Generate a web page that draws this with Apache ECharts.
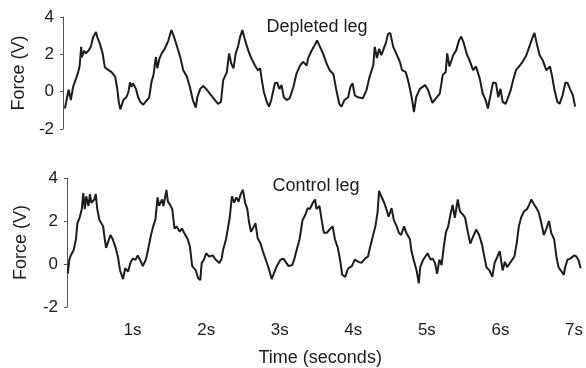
<!DOCTYPE html>
<html>
<head>
<meta charset="utf-8">
<script src="https://cdn.jsdelivr.net/npm/echarts@6/dist/echarts.min.js"></script>
<style>
  html, body { margin: 0; padding: 0; background: #fff; }
  #main { width: 586px; height: 368px; }
</style>
</head>
<body>
<div id="main"></div>
<script>
// time (s) and force (V)
const depletedTime = [0.08,0.13,0.16,0.19,0.23,0.26,0.28,0.30,0.31,0.34,0.36,0.40,0.43,0.46,0.50,0.52,0.55,0.59,0.62,0.67,0.71,0.76,0.79,0.81,0.83,0.87,0.91,0.94,0.96,0.98,1.00,1.04,1.07,1.10,1.14,1.19,1.22,1.25,1.28,1.31,1.33,1.36,1.39,1.43,1.48,1.52,1.55,1.59,1.64,1.68,1.73,1.77,1.81,1.85,1.87,1.91,1.95,2.00,2.04,2.11,2.15,2.19,2.22,2.27,2.30,2.33,2.36,2.39,2.42,2.45,2.48,2.51,2.56,2.60,2.65,2.69,2.72,2.74,2.77,2.81,2.84,2.87,2.92,2.95,2.98,3.01,3.04,3.08,3.12,3.17,3.21,3.26,3.30,3.35,3.37,3.41,3.46,3.49,3.53,3.57,3.62,3.66,3.71,3.75,3.79,3.82,3.86,3.91,3.94,3.97,4.00,4.04,4.11,4.16,4.20,4.25,4.27,4.30,4.33,4.36,4.40,4.42,4.45,4.48,4.52,4.56,4.61,4.64,4.69,4.73,4.77,4.80,4.83,4.88,4.95,4.99,5.05,5.10,5.15,5.19,5.23,5.25,5.28,5.33,5.37,5.41,5.44,5.47,5.52,5.55,5.60,5.64,5.69,5.73,5.77,5.80,5.84,5.87,5.91,5.94,5.97,6.00,6.04,6.07,6.11,6.14,6.18,6.23,6.27,6.32,6.36,6.40,6.43,6.46,6.50,6.54,6.59,6.64,6.67,6.70,6.74,6.77,6.81,6.85,6.88,6.91,6.95,6.98];
const depletedForce = [-0.9,0.1,-0.45,0.25,0.7,1.05,1.4,2.4,1.85,2.2,2.05,2.2,2.4,2.9,3.2,2.9,2.6,2.05,1.3,1.15,1.05,0.8,0.1,-0.6,-0.95,-0.45,-0.3,0,0.5,0.25,0.45,0.15,-0.3,-0.55,-0.7,-0.45,-0.3,0.5,0.95,1.85,1.25,1.8,2.05,2.3,2.75,3.3,3.0,2.5,1.85,1.15,0.8,0.25,-0.45,-0.85,-0.3,0.15,0.3,0.1,-0.1,-0.45,-0.65,-0.55,0.6,1.05,2.05,1.5,1.25,2.05,2.4,2.95,3.3,2.85,2.2,1.8,1.4,1.15,1.25,0.7,0,-0.55,-0.8,-0.45,0.45,0.5,0.15,0.35,-0.3,-0.45,-0.35,0.25,0.95,1.4,1.6,1.4,1.8,2.15,2.5,2.75,2.4,2.05,1.5,1.15,0.95,0.1,-0.65,-0.8,-0.45,-0.3,0.25,0.45,-0.2,-0.3,-0.35,0.1,0.8,1.4,2.4,1.8,2.3,1.95,2.4,2.6,3.1,3.15,2.4,2.05,1.6,1.15,1.05,0.45,-0.3,-1.1,-0.3,0.15,0.35,0.1,-0.6,-0.35,-0.1,0.9,1.05,2.05,1.35,1.95,2.2,2.75,2.95,2.65,1.95,1.7,1.15,1.35,0.7,-0.1,-0.45,-0.9,-0.1,0.5,0.45,-0.3,0.15,-0.55,-0.65,-0.35,0.1,0.6,1.15,1.4,1.6,1.95,2.4,2.85,3.15,2.6,1.95,1.7,1.15,1.35,0.8,0.1,-0.55,-0.65,-0.2,0.5,0.45,0.15,-0.2,-0.8];

const controlTime = [0.12,0.14,0.16,0.20,0.23,0.25,0.28,0.31,0.33,0.35,0.37,0.40,0.42,0.44,0.48,0.50,0.52,0.55,0.60,0.62,0.64,0.67,0.70,0.73,0.77,0.80,0.83,0.87,0.90,0.94,0.97,1.00,1.04,1.07,1.10,1.14,1.18,1.21,1.25,1.28,1.31,1.34,1.36,1.40,1.42,1.46,1.48,1.51,1.54,1.57,1.60,1.64,1.67,1.70,1.75,1.78,1.81,1.86,1.89,1.92,1.94,1.97,2.00,2.04,2.09,2.13,2.18,2.21,2.23,2.27,2.30,2.32,2.35,2.38,2.41,2.44,2.47,2.50,2.53,2.56,2.58,2.61,2.65,2.67,2.70,2.74,2.77,2.81,2.85,2.89,2.92,2.96,3.01,3.05,3.09,3.12,3.17,3.20,3.23,3.27,3.31,3.35,3.38,3.41,3.45,3.48,3.50,3.54,3.57,3.60,3.64,3.69,3.72,3.75,3.79,3.82,3.85,3.89,3.93,3.98,4.02,4.07,4.11,4.16,4.20,4.23,4.27,4.30,4.33,4.35,4.38,4.42,4.45,4.48,4.52,4.55,4.59,4.62,4.65,4.69,4.72,4.77,4.79,4.82,4.86,4.89,4.91,4.95,4.98,5.01,5.05,5.08,5.11,5.14,5.17,5.20,5.23,5.26,5.29,5.32,5.35,5.38,5.42,5.45,5.49,5.52,5.55,5.59,5.62,5.67,5.71,5.75,5.78,5.81,5.85,5.89,5.92,5.96,5.99,6.03,6.06,6.09,6.14,6.19,6.22,6.25,6.28,6.32,6.36,6.39,6.42,6.46,6.49,6.52,6.55,6.59,6.62,6.66,6.69,6.73,6.76,6.79,6.82,6.86,6.88,6.91,6.95,7.00,7.03,7.06,7.09];
const controlForce = [-0.45,0.2,0.4,0.65,1.15,1.9,2.15,2.55,3.3,2.55,3.15,2.7,3.25,2.85,3.0,3.25,2.55,2.05,1.75,1.2,0.75,1.05,1.35,1.15,0.75,0.35,-0.3,-0.7,-0.2,-0.35,0.05,0.25,0.2,0.4,0.2,-0.1,0.2,0.65,1.35,1.75,2.05,3.1,2.7,3.0,2.7,3.45,2.9,2.75,2.55,1.65,1.75,1.5,1.65,1.45,1.15,0.8,-0.1,-0.3,-0.65,-0.75,0.05,0.2,0.5,0.35,0.4,0.2,0.05,0.25,0.65,1.15,1.75,2.15,3.15,2.85,3.1,2.9,3.25,3.45,2.85,2.55,2.0,1.5,1.75,1.9,1.2,0.95,0.6,0.2,-0.2,-0.7,-0.45,-0.1,0.2,0.25,0.05,-0.1,-0.05,0.25,0.65,1.15,2.05,2.3,2.6,2.55,2.85,3.0,2.55,2.7,2.05,1.45,1.45,1.65,1.75,1.15,0.75,0.2,-0.5,-0.6,-0.2,-0.1,0.2,0.1,0.05,0.25,0.35,0.8,1.35,1.75,2.4,3.4,3.15,2.85,2.55,2.2,2.6,2.05,1.75,1.45,1.35,1.75,1.45,1.15,0.6,0.2,-0.3,-0.9,-0.15,0.2,0.35,0.5,0.2,0.25,0.05,-0.45,0.2,-0.05,0.8,1.5,1.75,2.3,2.75,2.15,3.0,2.45,2.3,2.15,1.6,0.95,1.2,1.6,1.35,0.9,0.35,-0.15,-0.3,-0.6,0.05,0.35,0.6,-0.3,0.1,-0.15,0.1,0.35,0.95,1.75,2.15,2.45,2.55,2.75,3.0,2.75,2.6,2.4,2.0,1.35,1.6,2.0,1.45,1.15,0.35,-0.15,-0.3,-0.5,-0.15,0.2,0.25,0.4,0.35,0.2,-0.2];

const panelTitles = ['Depleted leg', 'Control leg'];
const forceTicks = [-2, 0, 2, 4];
const timeMax = 7.1;

const ink = '#1c1c1c';
const fontFamily = '"Liberation Sans", Arial, sans-serif';

const zip = (ts, vs) => ts.map((t, i) => [t, vs[i]]);

const yAxisBase = (gridIndex, shift, gap) => ({
    gridIndex: gridIndex,
    type: 'value',
    min: forceTicks[0],
    max: forceTicks[forceTicks.length - 1],
    interval: 2,
    offset: shift,
    name: 'Force (V)',
    nameLocation: 'middle',
    nameGap: gap,
    nameTextStyle: { color: ink, fontSize: 18, fontFamily: fontFamily },
    axisLine: { show: true, lineStyle: { color: '#555', width: 1 } },
    axisTick: { show: true, length: 3, lineStyle: { color: '#555' } },
    axisLabel: { color: ink, fontSize: 17, fontFamily: fontFamily, margin: 9 },
    splitLine: { show: false }
});

var myChart = echarts.init(document.getElementById('main'));
myChart.setOption({
    animation: false,
    backgroundColor: '#fff',
    title: [
        { text: panelTitles[0], left: 312, top: 13, textAlign: 'center',
          textStyle: { color: ink, fontSize: 18, fontWeight: 'normal', fontFamily: fontFamily } },
        { text: panelTitles[1], left: 311, top: 172, textAlign: 'center',
          textStyle: { color: ink, fontSize: 18, fontWeight: 'normal', fontFamily: fontFamily } }
    ],
    grid: [
        { left: 59, right: 2, top: 17, height: 112 },
        { left: 59, right: 2, top: 178, height: 129 }
    ],
    xAxis: [
        { gridIndex: 0, type: 'value', min: 0, max: timeMax, show: false },
        {
            gridIndex: 1, type: 'value', min: 0, max: timeMax, interval: 1,
            name: 'Time (seconds)',
            nameLocation: 'middle',
            nameGap: 42,
            nameTextStyle: { color: ink, fontSize: 18, fontFamily: fontFamily },
            axisLine: { show: false },
            axisTick: { show: false },
            splitLine: { show: false },
            axisLabel: {
                color: ink, fontSize: 17, fontFamily: fontFamily, margin: 15,
                showMaxLabel: false,
                formatter: v => (v > 0 && Number.isInteger(v)) ? v + 's' : ''
            }
        }
    ],
    yAxis: [yAxisBase(0, -4, 33), yAxisBase(1, -8, 37)],
    series: [
        {
            name: panelTitles[0], type: 'line', xAxisIndex: 0, yAxisIndex: 0,
            data: zip(depletedTime, depletedForce),
            showSymbol: false,
            lineStyle: { color: ink, width: 2 }
        },
        {
            name: panelTitles[1], type: 'line', xAxisIndex: 1, yAxisIndex: 1,
            data: zip(controlTime, controlForce),
            showSymbol: false,
            lineStyle: { color: ink, width: 2 }
        }
    ]
});
</script>
</body>
</html>
